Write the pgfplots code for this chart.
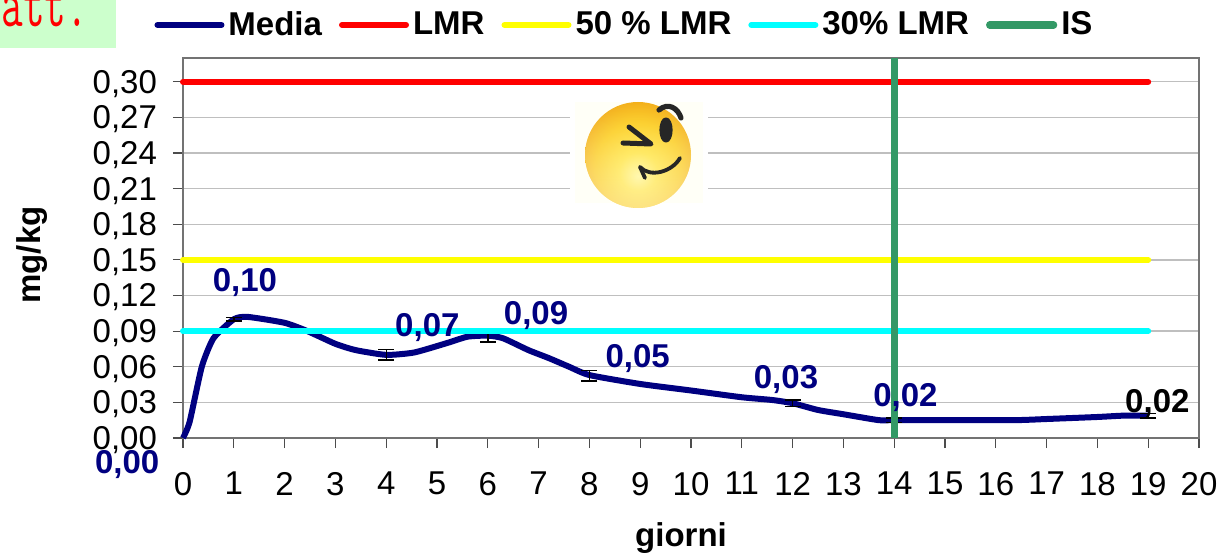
\documentclass[border=0pt]{standalone}
\usepackage{pgfplots}
\pgfplotsset{compat=1.18}
\usetikzlibrary{fadings}
\usepackage{fontspec}
\setmainfont{Liberation Sans}
\definecolor{navy}{RGB}{0,0,128}
\definecolor{sea}{RGB}{51,153,102}
\definecolor{pcyan}{RGB}{0,255,255}
\definecolor{pyellow}{RGB}{255,255,0}
\definecolor{pred}{RGB}{255,0,0}
\definecolor{sm1}{RGB}{255,245,140}
\definecolor{sm2}{RGB}{255,228,60}
\definecolor{sm3}{RGB}{252,205,30}
\definecolor{sm4}{RGB}{240,165,25}
\pgfdeclareradialshading{smile}{\pgfpoint{0bp}{-10bp}}{
 color(0bp)=(sm1);
 color(9bp)=(sm2);
 color(20bp)=(sm3);
 color(31bp)=(sm4);
 color(40bp)=(sm4)}
\newcommand{\blab}[1]{\fontsize{16.5}{18}\selectfont\bfseries #1}
\begin{document}
\begin{tikzpicture}[x=0.5pt,y=-0.5pt]
\path[use as bounding box] (0,0) rectangle (1219,555);
\clip (0,0) rectangle (1219,555);
\fill[white] (0,0) rectangle (1219,555);
\fill[green!20!white] (0,0) rectangle (116,48);
\node[anchor=base west,inner sep=0pt,text=pred] at (1,27) {\scalebox{1.05}[1.7]{\fontsize{20}{20}\selectfont\ttfamily att.}};
\begin{axis}[
 at={(91.5pt,-219pt)},anchor=south west,
 scale only axis,width=508pt,height=190pt,
 xmin=0,xmax=20,ymin=0,ymax=0.32,
 xtick={0,1,...,20},
 ytick={0,0.03,0.06,0.09,0.12,0.15,0.18,0.21,0.24,0.27,0.30},
 ymajorgrids,
 grid style={color=black!25,line width=0.7pt},
 tick align=outside,tick pos=left,
 major tick length=5pt,
 tick style={color=black!70,line width=0.6pt},
 axis line style={color=black!55,line width=0.9pt},
 clip=false,
 tick label style={font=\fontsize{16.5}{18}\selectfont},
 /pgf/number format/assume math mode=true,
 yticklabel style={xshift=-4.5pt,yshift=-1pt,/pgf/number format/.cd,fixed,fixed zerofill,precision=2,use comma},
 xticklabel style={yshift=-8.5pt},
 xlabel={\blab{giorni}},
 ylabel={\blab{mg/kg}},
 xlabel style={at={(0.4902,0)},anchor=center,yshift=-50pt},
 ylabel style={at={(0,0.4816)},anchor=center,yshift=75.5pt},
 legend columns=5,
 legend style={at={(0.4355,1.087)},anchor=center,draw=none,fill=none,inner sep=0pt,
   font=\fontsize{16.5}{18}\selectfont\bfseries,
   /tikz/every even column/.append style={column sep=6.5pt}},
 legend cell align=left,
 legend image code/.code={\draw[#1,line cap=round] (0,0) -- (32pt,0);},
]
\addplot[navy,line width=3pt,smooth,tension=0.35] coordinates {
 (0,0) (0.13,0.0135) (0.37,0.06) (0.6,0.084) (1,0.1) (1.27,0.102) (2,0.097) (2.45,0.09)
 (3,0.0793) (3.4,0.074) (4,0.07) (4.55,0.072) (5.2,0.08) (5.6,0.0853) (6,0.0862) (6.3,0.084)
 (6.8,0.074) (7.2,0.0673) (7.6,0.06) (8,0.053) (9,0.0455) (10,0.04) (11,0.0343) (11.6,0.032)
 (12,0.0293) (12.5,0.0236) (13,0.02) (13.7,0.015) (14,0.015) (16.3,0.015) (17,0.016) (18,0.0177)
 (18.5,0.0188) (19,0.0188)};
\addlegendentry{Media}
\addplot[forget plot,draw=none,mark=none,
 error bars/.cd,y dir=both,y explicit,
 error bar style={black,line width=0.7pt},
 error mark options={rotate=90,mark size=4pt,black,line width=0.7pt}]
 coordinates {
 (1,0.1) +- (0,0.0015)
 (4,0.07) +- (0,0.0043)
 (6,0.0855) +- (0,0.0045)
 (8,0.0523) +- (0,0.0043)
 (12,0.0293) +- (0,0.0028)
 (14,0.015) +- (0,0.002)
 (19,0.0188) +- (0,0.002)};
\addplot[pred,line width=3pt,line cap=round] coordinates {(0,0.3) (19,0.3)};
\addlegendentry{LMR}
\addplot[pyellow,line width=3pt,line cap=round] coordinates {(0,0.15) (19,0.15)};
\addlegendentry{50 \% LMR}
\addplot[pcyan,line width=3pt,line cap=round] coordinates {(0,0.09) (19,0.09)};
\addlegendentry{30\% LMR}
\addplot[sea,line width=3.6pt] coordinates {(14,0) (14,0.32)};
\addlegendentry{IS}
\node[text=navy] at (axis cs:1.22,0.1312) {\blab{0,10}};
\node[text=navy] at (axis cs:4.81,0.0932) {\blab{0,07}};
\node[text=navy] at (axis cs:6.95,0.1032) {\blab{0,09}};
\node[text=navy] at (axis cs:8.95,0.0668) {\blab{0,05}};
\node[text=navy] at (axis cs:11.87,0.0492) {\blab{0,03}};
\node[text=navy] at (axis cs:14.22,0.0342) {\blab{0,02}};
\node[text=black] at (axis cs:19.18,0.0288) {\blab{0,02}};
\node[text=navy] at (axis cs:-1.1,-0.0225) {\blab{0,00}};
\end{axis}
% decorative smiley picture
\fill[white] (570,97) rectangle (708,208);
\fill[yellow!3!white] (575,102) rectangle (703,203);
\shade[shading=smile] (638,155) circle (53);
\fill[white,path fading=north,fill opacity=0.45] (638,155) circle (53);
\begin{scope}[line cap=round,line join=round,black!85]
\draw[line width=2.5pt] (629,127) -- (651,144) -- (623,143);
\draw[line width=1.6pt,fill=black!85] (666,130) ellipse (5 and 11);
\draw[line width=2.6pt] (659,110) .. controls (668,102) and (678,108) .. (681,118);
\draw[line width=1.9pt] (640,167) .. controls (650,178) and (672,172) .. (680,158);
\draw[line width=1.9pt] (640,167) -- (645,178);
\end{scope}
\end{tikzpicture}
\end{document}
